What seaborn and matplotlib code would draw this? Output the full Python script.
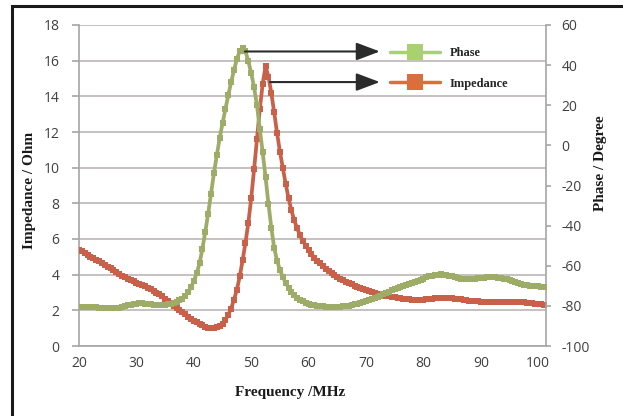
import numpy as np
import pandas as pd
import matplotlib
matplotlib.use("Agg")
import matplotlib.pyplot as plt
from matplotlib.lines import Line2D
from matplotlib.patches import Rectangle
import seaborn as sns

# Frequency sweep (MHz)
freq_start, freq_stop, freq_step = 20.0, 101.0, 0.5
freq = np.arange(freq_start, freq_stop + freq_step / 2, freq_step)

# Impedance magnitude (Ohm), one value per sweep point
impedance = [
    5.38, 5.30, 5.20, 5.10, 5.00, 4.92, 4.83, 4.74, 4.65, 4.55,
    4.45, 4.35, 4.25, 4.15, 4.05, 3.95, 3.86, 3.78, 3.70, 3.63,
    3.56, 3.49, 3.42, 3.35, 3.27, 3.19, 3.10, 3.00, 2.90, 2.78,
    2.66, 2.53, 2.40, 2.27, 2.14, 2.01, 1.89, 1.77, 1.65, 1.53,
    1.42, 1.32, 1.23, 1.15, 1.08, 1.03, 1.00, 1.00, 1.05, 1.13,
    1.25, 1.45, 1.75, 2.10, 2.60, 3.15, 3.90, 4.80, 5.80, 6.90,
    8.30, 9.90, 11.60, 13.30, 14.70, 15.70, 15.10, 14.20, 13.10, 11.95,
    10.90, 10.00, 9.10, 8.30, 7.60, 7.05, 6.60, 6.20, 5.90, 5.62,
    5.38, 5.16, 4.96, 4.79, 4.63, 4.48, 4.34, 4.21, 4.09, 3.98,
    3.88, 3.78, 3.69, 3.60, 3.52, 3.45, 3.38, 3.31, 3.25, 3.19,
    3.13, 3.08, 3.03, 2.98, 2.94, 2.90, 2.86, 2.82, 2.79, 2.76,
    2.73, 2.70, 2.68, 2.66, 2.64, 2.62, 2.60, 2.59, 2.58, 2.58,
    2.59, 2.61, 2.63, 2.65, 2.67, 2.68, 2.69, 2.70, 2.70, 2.69,
    2.67, 2.65, 2.63, 2.61, 2.59, 2.57, 2.55, 2.53, 2.51, 2.50,
    2.49, 2.48, 2.48, 2.48, 2.48, 2.48, 2.48, 2.48, 2.48, 2.48,
    2.48, 2.48, 2.47, 2.46, 2.45, 2.44, 2.42, 2.41, 2.39, 2.37,
    2.35, 2.33, 2.31,
]

# Phase (degree), one value per sweep point
phase = [
    -80.4, -80.5, -80.6, -80.7, -80.7, -80.8, -80.8, -80.9, -81.0, -81.1,
    -81.2, -81.3, -81.3, -81.2, -81.0, -80.6, -80.2, -79.8, -79.4, -79.1,
    -78.9, -78.8, -78.8, -78.9, -79.1, -79.3, -79.5, -79.6, -79.6, -79.5,
    -79.4, -79.2, -79.0, -78.6, -78.0, -77.3, -76.4, -75.0, -73.2, -70.8,
    -67.6, -63.8, -58.8, -51.5, -43.0, -34.0, -24.0, -14.0, -5.0, 3.5,
    11.0, 18.0, 25.0, 31.5, 37.5, 43.0, 47.0, 48.5, 46.8, 42.0,
    36.0, 29.0, 20.0, 8.0, -3.5, -16.0, -29.0, -41.0, -51.0, -57.5,
    -62.0, -65.5, -68.5, -71.0, -73.0, -74.6, -75.9, -76.9, -77.7, -78.4,
    -79.0, -79.4, -79.8, -80.0, -80.2, -80.3, -80.4, -80.5, -80.5, -80.5,
    -80.5, -80.4, -80.3, -80.1, -79.9, -79.6, -79.3, -79.0, -78.6, -78.1,
    -77.6, -77.1, -76.6, -76.1, -75.5, -74.9, -74.3, -73.6, -72.9, -72.3,
    -71.7, -71.1, -70.6, -70.1, -69.6, -69.1, -68.6, -68.1, -67.6, -67.0,
    -66.4, -65.8, -65.3, -64.9, -64.6, -64.4, -64.3, -64.4, -64.6, -64.9,
    -65.3, -65.7, -66.1, -66.4, -66.6, -66.7, -66.7, -66.6, -66.4, -66.2,
    -66.0, -65.9, -65.8, -65.8, -65.8, -65.8, -65.9, -66.1, -66.4, -66.8,
    -67.3, -67.8, -68.3, -68.8, -69.2, -69.5, -69.8, -70.0, -70.1, -70.2,
    -70.3, -70.4, -70.4,
]

x_ticks = [20, 30, 40, 50, 60, 70, 80, 90, 100]
imp_ticks = [0, 2, 4, 6, 8, 10, 12, 14, 16, 18]
phase_ticks = [-100, -80, -60, -40, -20, 0, 20, 40, 60]
series_names = ["Phase", "Impedance"]

df = pd.DataFrame({"freq": freq, "impedance": impedance, "phase": phase})

sns.set_style("white")
plt.rcParams["font.family"] = ["Open Sans", "DejaVu Sans"]
plt.rcParams["axes.unicode_minus"] = False

IMP_COLOR = "#c9614a"
PHASE_COLOR = "#9dac66"
IMP_LEGEND = "#df6c3d"
PHASE_LEGEND = "#a9d26e"
GRID = "#bdb5b5"
SPINE = "#a6a6a6"
TICKTXT = "#404040"

W, H = 623, 416
fig = plt.figure(figsize=(W / 100, H / 100), dpi=100)
ax = fig.add_axes([79 / W, 1 - 346 / H, (545.7 - 79) / W, (346 - 25) / H])

line_kw = dict(marker="s", markersize=4.6, markeredgewidth=0,
               linewidth=2.7, zorder=3)
sns.lineplot(data=df, x="freq", y="impedance", ax=ax, color=IMP_COLOR,
             **line_kw)

ax2 = ax.twinx()
sns.lineplot(data=df, x="freq", y="phase", ax=ax2, color=PHASE_COLOR,
             **line_kw)

ax.set_xlim(20, 101.3)
ax.set_ylim(0, 18)
ax2.set_ylim(-100, 60)
ax.set_xticks(x_ticks)
ax.set_yticks(imp_ticks)
ax2.set_yticks(phase_ticks)

ax.grid(axis="y", color=GRID, linewidth=1.2)
ax.grid(axis="x", visible=False)
ax2.grid(False)
ax.set_axisbelow(True)

ax.spines["top"].set_visible(False)
ax2.spines["top"].set_visible(False)
ax.spines["right"].set_visible(False)
ax.spines["left"].set_color(SPINE)
ax.spines["bottom"].set_color(SPINE)
ax2.spines["left"].set_visible(False)
ax2.spines["bottom"].set_visible(False)
ax2.spines["right"].set_color(SPINE)
for s in ("left", "bottom"):
    ax.spines[s].set_linewidth(1.2)
ax2.spines["right"].set_linewidth(1.2)

ax.tick_params(axis="y", direction="out", length=5, width=1.2, color=SPINE,
               pad=9, labelcolor=TICKTXT, labelsize=10, left=True)
ax.tick_params(axis="x", length=0, pad=7, labelcolor=TICKTXT, labelsize=10,
               bottom=True)
ax2.tick_params(axis="y", direction="out", length=3.5, width=1.2, color=SPINE,
                pad=8, labelcolor=TICKTXT, labelsize=10, right=True)

label_font = {"family": "Liberation Serif", "weight": "bold", "size": 11,
              "color": "#1a1a1a"}
ax.set_xlabel("Frequency /MHz", fontdict=label_font)
ax.set_ylabel("Impedance / Ohm", fontdict=label_font)
ax2.set_ylabel("Phase / Degree", fontdict=label_font)
ax.xaxis.set_label_coords(0.452, -0.125)
ax.yaxis.set_label_coords(-0.092, 0.486)
ax2.yaxis.set_label_coords(1.104, 0.57)

# Leader arrows from the resonance peaks to the legend entries
arrow_kw = dict(arrowstyle="-|>,head_length=0.85,head_width=0.32",
                color="#2b2b2b", lw=1.5, mutation_scale=17,
                shrinkA=0, shrinkB=0)
ax2.annotate("", xy=(72.4, 46.8), xytext=(48.9, 46.8),
             arrowprops=arrow_kw, zorder=5)
ax.annotate("", xy=(72.4, 14.8), xytext=(53.3, 14.8),
            arrowprops=arrow_kw, zorder=5)

handles = [
    Line2D([], [], color=PHASE_LEGEND, lw=2.5, marker="s", markersize=11,
           markerfacecolor=PHASE_LEGEND, markeredgewidth=0),
    Line2D([], [], color=IMP_LEGEND, lw=2.5, marker="s", markersize=11,
           markerfacecolor=IMP_LEGEND, markeredgewidth=0),
]
fig.legend(handles, series_names, loc="upper left",
           bbox_to_anchor=(390 / W, 1 - 47.5 / H), frameon=False,
           borderpad=0, borderaxespad=0, handlelength=4.0,
           handletextpad=0.8, labelspacing=1.45,
           prop={"family": "Liberation Serif", "weight": "bold", "size": 9})

# Outer frame
fig.add_artist(Rectangle((12 / W, -0.1), 1.2, (H - 6) / H + 0.1,
                         transform=fig.transFigure, fill=False,
                         edgecolor="#1a1a1a", linewidth=2.2, clip_on=False))

fig.savefig("out.png", dpi=100)
